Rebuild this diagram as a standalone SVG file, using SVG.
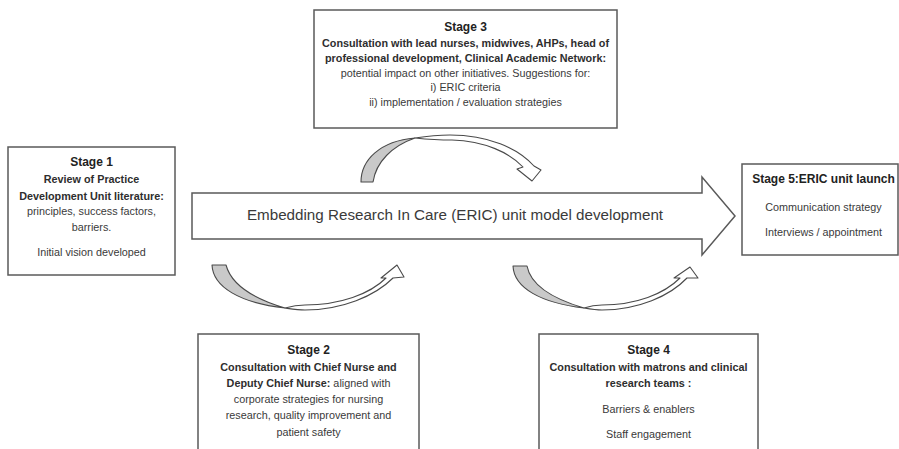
<svg xmlns="http://www.w3.org/2000/svg" width="899" height="449" viewBox="0 0 899 449">
  <style>
    .box { fill: #ffffff; stroke: #5a5a5a; stroke-width: 1.5; }
    .t { font-family: "Liberation Sans", Arial, sans-serif; font-size: 10.8px; fill: #3a3a3a; text-anchor: middle; }
    .b { font-weight: bold; fill: #2e2e2e; }
    .title { font-size: 12px; font-weight: bold; fill: #222; }
    .band { fill: #ffffff; stroke: #4a4a4a; stroke-width: 1.1; stroke-linejoin: round; }
    .back { fill: #c9c9c9; stroke: #4a4a4a; stroke-width: 1.1; stroke-linejoin: round; }
    .main { fill: #ffffff; stroke: #5a5a5a; stroke-width: 1.5; }
    .mtext { font-family: "Liberation Sans", Arial, sans-serif; font-size: 15.2px; fill: #3a3a3a; text-anchor: middle; }
  </style>
  <rect width="899" height="449" fill="#ffffff"/>

  <g id="connectors">
    <!-- main development arrow -->
    <g id="main-arrow">
      <path class="main" d="M192,193 L702,193 L702,177 L735,216 L702,255 L702,239 L192,239 Z"/>
      <text class="mtext" x="455" y="220">Embedding Research In Care (ERIC) unit model development</text>
    </g>
    <!-- curved arrow over the main arrow (stage 3) -->
    <g id="curve-top">
      <path class="back" d="M361,182 C361,160 380,141 415,138 C392,146 376,162 373,182 Z"/>
      <path class="band" d="M415,138 C428,136 438,135 450,135 C488,135 518,148 534,166 L541,170 L532,181 L517,169 L523,167 C510,153 485,141 452,140 C438,140 425,139 415,138 Z"/>
    </g>
    <!-- curved arrow under the main arrow (stage 2) -->
    <g id="curve-left">
      <path class="back" d="M212,265 C213,287 240,303 285,308 C258,300 232,287 226,265 Z"/>
      <path class="band" d="M285,308 C292,309 298,310 305,310 C342,310 375,296 393,278 L404,277 L397,265 L381,278 L386,278 C370,294 340,305 305,305 C298,305 292,306 285,308 Z"/>
    </g>
    <!-- curved arrow under the main arrow (stage 4) -->
    <g id="curve-right">
      <path class="back" d="M513,266 C514,288 541,303 584,308 C557,300 531,287 527,266 Z"/>
      <path class="band" d="M584,308 C590,309 596,310 602,310 C638,310 670,296 687,278 L698,278 L690,267 L674,278 L680,278 C664,294 636,305 602,305 C596,305 590,306 584,308 Z"/>
    </g>
  </g>

  <g id="stage1">
    <rect class="box" x="8" y="147" width="167" height="128"/>
    <text class="t title" x="91.5" y="166">Stage 1</text>
    <text class="t b" x="91.5" y="183">Review of Practice</text>
    <text class="t b" x="91.5" y="200">Development Unit literature:</text>
    <text class="t" x="91.5" y="215">principles, success factors,</text>
    <text class="t" x="91.5" y="231">barriers.</text>
    <text class="t" x="91.5" y="256">Initial vision developed</text>
  </g>

  <g id="stage3">
    <rect class="box" x="314" y="10" width="303" height="118"/>
    <text class="t title" x="465.5" y="31">Stage 3</text>
    <text class="t b" x="465.5" y="47">Consultation with lead nurses, midwives, AHPs, head of</text>
    <text class="t b" x="465.5" y="62">professional development, Clinical Academic Network:</text>
    <text class="t" x="465.5" y="77">potential impact on other initiatives. Suggestions for:</text>
    <text class="t" x="465.5" y="91">i) ERIC criteria</text>
    <text class="t" x="465.5" y="106">ii) implementation / evaluation strategies</text>
  </g>

  <g id="stage5">
    <rect class="box" x="742" y="164" width="156" height="91"/>
    <text class="t title" x="823.5" y="183">Stage 5:ERIC unit launch</text>
    <text class="t" x="823.5" y="211">Communication strategy</text>
    <text class="t" x="823.5" y="236">Interviews / appointment</text>
  </g>

  <g id="stage2">
    <rect class="box" x="198" y="334" width="221" height="120"/>
    <text class="t title" x="308.5" y="354">Stage 2</text>
    <text class="t b" x="308.5" y="371">Consultation with Chief Nurse and</text>
    <text class="t" x="308.5" y="387"><tspan class="b">Deputy Chief Nurse:</tspan> aligned with</text>
    <text class="t" x="308.5" y="403">corporate strategies for nursing</text>
    <text class="t" x="308.5" y="419">research, quality improvement and</text>
    <text class="t" x="308.5" y="436">patient safety</text>
  </g>

  <g id="stage4">
    <rect class="box" x="539" y="334" width="219" height="120"/>
    <text class="t title" x="648.5" y="354">Stage 4</text>
    <text class="t b" x="648.5" y="371">Consultation with matrons and clinical</text>
    <text class="t b" x="648.5" y="387">research teams :</text>
    <text class="t" x="648.5" y="413">Barriers &amp; enablers</text>
    <text class="t" x="648.5" y="438">Staff engagement</text>
  </g>
</svg>
